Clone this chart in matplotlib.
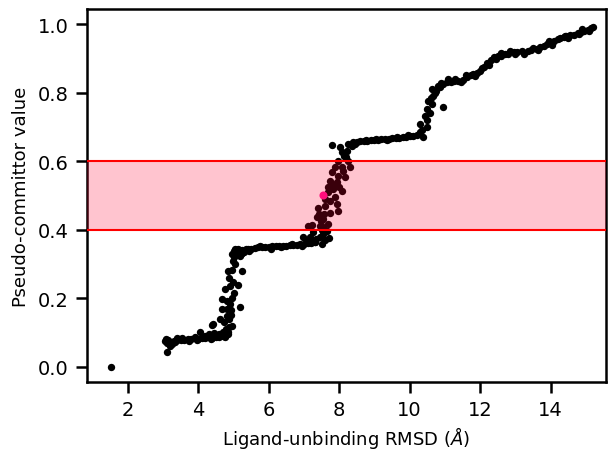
"""
Pseudo-committor value against ligand-unbinding RMSD, with the
0.4-0.6 transition band shaded.
"""
import numpy as np
import matplotlib

matplotlib.use("Agg")
import matplotlib.pyplot as plt

# isolated bound-state frame
bound_x = [1.52]
bound_y = [0.0]

# first plateau, ~3-4.9 A
flat1_x = [3.05, 3.10, 3.15, 3.20, 3.30, 3.40, 3.50, 3.60, 3.70, 3.80, 3.90,
           4.00, 4.10, 4.20, 4.30, 4.40, 4.50, 4.60, 4.70, 4.80, 4.85,
           3.11, 3.19, 3.25, 3.40, 3.90, 4.20, 4.05, 4.30, 4.60, 4.70, 4.85,
           3.08, 3.35, 3.55, 3.75, 3.95, 4.15, 4.35, 4.55, 4.75, 4.45]
flat1_y = [0.075, 0.070, 0.078, 0.072, 0.075, 0.077, 0.078, 0.079, 0.080,
           0.081, 0.083, 0.082, 0.084, 0.085, 0.086, 0.085, 0.088, 0.087,
           0.090, 0.092, 0.095,
           0.044, 0.061, 0.065, 0.083, 0.088, 0.090, 0.100, 0.095, 0.095,
           0.100, 0.100,
           0.080, 0.072, 0.083, 0.076, 0.079, 0.088, 0.081, 0.092, 0.086,
           0.098]

# first jump
jump1_x = [4.39, 4.42, 4.62, 4.82, 4.88, 4.67, 4.82, 4.92, 5.18, 4.67, 4.82,
           4.90, 4.76, 4.90, 4.99, 5.13, 4.84, 4.96, 5.24, 4.99, 4.96, 4.80,
           4.95, 4.72, 4.86, 4.93, 5.02, 4.88, 5.05, 4.78, 4.95]
jump1_y = [0.122, 0.125, 0.140, 0.149, 0.140, 0.169, 0.169, 0.165, 0.175,
           0.198, 0.192, 0.184, 0.227, 0.236, 0.248, 0.239, 0.280, 0.283,
           0.280, 0.309, 0.329, 0.110, 0.120, 0.130, 0.115, 0.150, 0.215,
           0.260, 0.300, 0.105, 0.200]

# second plateau, ~5-7.3 A
flat2_x = [5.00, 5.05, 5.10, 5.15, 5.20, 5.25, 5.30, 5.35, 5.40, 5.50, 5.60,
           5.70, 5.80, 5.90, 6.00, 6.10, 6.20, 6.30, 6.40, 6.50, 6.60, 6.70,
           6.80, 6.90, 7.00, 7.10, 7.20, 7.30, 5.05, 5.25,
           5.12, 5.45, 5.75, 6.05, 6.35, 6.65, 6.95, 7.15, 5.00, 5.18]
flat2_y = [0.320, 0.335, 0.328, 0.340, 0.330, 0.342, 0.335, 0.345, 0.343,
           0.345, 0.347, 0.348, 0.349, 0.350, 0.350, 0.351, 0.352, 0.352,
           0.353, 0.352, 0.354, 0.355, 0.356, 0.357, 0.358, 0.360, 0.362,
           0.365, 0.345, 0.332,
           0.345, 0.338, 0.352, 0.345, 0.348, 0.358, 0.352, 0.368, 0.338,
           0.322]

# second jump, through the transition band
jump2_x = [6.98, 7.17, 7.54, 7.52, 7.60, 7.26, 7.35, 7.45, 7.65, 7.70,
           7.12, 7.23, 7.46, 7.55, 7.69, 7.37, 7.47, 7.54, 7.40, 7.60, 7.97,
           7.60, 7.74, 7.89, 7.94, 8.08, 7.69, 7.83, 7.94, 7.74, 7.97, 8.17,
           7.80, 7.89, 8.08, 8.31, 7.97, 8.26, 8.08, 8.23, 8.03, 7.80, 8.26,
           8.15, 8.35, 7.30, 7.50, 7.42, 7.75, 7.85, 8.00, 8.12, 7.68, 7.58,
           8.20, 7.08]
jump2_y = [0.379, 0.379, 0.388, 0.359, 0.370, 0.394, 0.372, 0.380, 0.395,
           0.375,
           0.410, 0.414, 0.410, 0.408, 0.417, 0.437, 0.425, 0.431, 0.463,
           0.469, 0.455, 0.490, 0.484, 0.496, 0.475, 0.513, 0.510, 0.519,
           0.539, 0.542, 0.557, 0.554, 0.569, 0.583, 0.583, 0.583, 0.601,
           0.600, 0.627, 0.630, 0.641, 0.647, 0.650, 0.615, 0.645, 0.365,
           0.398, 0.445, 0.450, 0.530, 0.525, 0.570, 0.525, 0.445, 0.612,
           0.368]

# highlighted frame
pick_x = [7.55]
pick_y = [0.501]

# third plateau, ~8.3-10 A
flat3_x = [8.40, 8.50, 8.60, 8.70, 8.80, 8.90, 9.00, 9.10, 9.20, 9.30, 9.40,
           9.50, 9.60, 9.70, 9.80, 9.90, 10.00, 10.10, 8.45, 8.75, 9.05,
           9.35, 9.65, 9.95]
flat3_y = [0.656, 0.657, 0.658, 0.659, 0.660, 0.661, 0.662, 0.663, 0.664,
           0.665, 0.665, 0.666, 0.667, 0.668, 0.669, 0.670, 0.672, 0.673,
           0.650, 0.662, 0.665, 0.662, 0.670, 0.675]

# third jump and the upper ramp
jump3_x = [10.30, 10.39, 10.30, 10.50, 10.44, 10.50, 10.64, 10.53, 10.67,
           10.64, 10.79, 10.96, 10.96, 10.58, 10.72, 10.85, 10.20, 10.35,
           10.48, 10.60, 10.75, 10.88]
jump3_y = [0.685, 0.671, 0.708, 0.700, 0.732, 0.752, 0.767, 0.776, 0.790,
           0.810, 0.820, 0.758, 0.825, 0.740, 0.800, 0.815, 0.676, 0.690,
           0.720, 0.785, 0.805, 0.828]

top_x = [11.05, 11.16, 11.25, 11.38, 11.50, 11.64, 11.75, 11.81, 11.90,
         12.01, 12.10, 12.20, 12.30, 12.38, 12.50, 12.58, 12.70, 12.80,
         12.95, 13.05, 13.20, 13.35, 13.45, 13.60, 13.70, 13.80, 13.91,
         14.00, 14.10, 14.20, 14.28, 14.37, 14.45, 14.55, 14.65, 14.77,
         14.85, 14.95, 15.05, 15.14, 15.19,
         11.10, 11.45, 11.85, 12.25, 12.60, 13.00, 13.50, 13.95, 14.40,
         14.80, 11.30, 11.60, 12.05, 12.45, 12.85, 13.25, 13.65, 14.05,
         14.50, 14.90, 15.10]
top_y = [0.830, 0.831, 0.833, 0.834, 0.838, 0.845, 0.850, 0.854, 0.858,
         0.863, 0.875, 0.885, 0.895, 0.903, 0.907, 0.908, 0.912, 0.914,
         0.918, 0.919, 0.920, 0.921, 0.924, 0.928, 0.932, 0.936, 0.942,
         0.946, 0.950, 0.955, 0.960, 0.962, 0.965, 0.968, 0.968, 0.975,
         0.977, 0.980, 0.984, 0.988, 0.992,
         0.840, 0.830, 0.848, 0.880, 0.915, 0.912, 0.930, 0.950, 0.966,
         0.971, 0.840, 0.852, 0.872, 0.897, 0.920, 0.914, 0.924, 0.940,
         0.958, 0.985, 0.980]

band_lo, band_hi = 0.4, 0.6


def main() -> None:
    xs = np.concatenate([bound_x, flat1_x, jump1_x, flat2_x, jump2_x,
                         flat3_x, jump3_x, top_x])
    ys = np.concatenate([bound_y, flat1_y, jump1_y, flat2_y, jump2_y,
                         flat3_y, jump3_y, top_y])

    fig = plt.figure(figsize=(6.08, 4.52), dpi=100)
    ax = fig.add_axes([0.143, 0.153, 0.853, 0.825])

    ax.scatter(xs, ys, s=28, color="black", linewidths=0, zorder=2)
    ax.scatter(pick_x, pick_y, s=34, color="deeppink", linewidths=0,
               zorder=3)
    # translucent band on top, so the frames inside it read dark red
    ax.axhspan(band_lo, band_hi, color="#ff0030", alpha=0.23, linewidth=0,
               zorder=4)
    ax.axhline(band_lo, color="red", linewidth=1.5, zorder=5)
    ax.axhline(band_hi, color="red", linewidth=1.5, zorder=5)

    ax.set_xlim(0.84, 15.56)
    ax.set_ylim(-0.044, 1.044)
    ax.set_xticks([2, 4, 6, 8, 10, 12, 14])
    ax.set_yticks([0.0, 0.2, 0.4, 0.6, 0.8, 1.0])

    for sp in ax.spines.values():
        sp.set_linewidth(1.8)
    ax.tick_params(length=8, width=1.8, labelsize=14, pad=5)
    ax.set_xlabel("Ligand-unbinding RMSD ($\\AA$)", fontsize=13,
                  labelpad=4)
    ax.set_ylabel("Pseudo-committor value", fontsize=13, labelpad=6)

    fig.savefig("out.png", dpi=100)
    plt.close(fig)


if __name__ == "__main__":
    main()
